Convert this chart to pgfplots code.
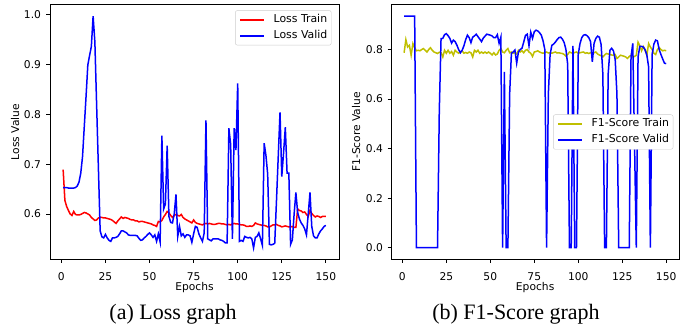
\documentclass[border=0pt]{standalone}
\usepackage{fontspec}
\setmainfont{DejaVu Sans}
\newfontfamily\capfont{Liberation Serif}
\usepackage{pgfplots}
\usepackage{pgfplotstable}
\pgfplotsset{compat=1.18}
\definecolor{mplyellow}{rgb}{0.75,0.75,0}
\definecolor{mplred}{rgb}{1,0,0}
\definecolor{mplblue}{rgb}{0,0,1}

\pgfplotstableread{
e lt lv
1 0.689 0.653
2 0.627 0.653
3 0.615 0.653
4 0.607 0.652
5 0.600 0.652
6 0.597 0.652
7 0.605 0.652
8 0.599 0.653
9 0.598 0.656
10 0.598 0.664
11 0.599 0.682
12 0.601 0.715
13 0.603 0.776
14 0.602 0.836
15 0.600 0.899
16 0.598 0.918
17 0.593 0.936
18 0.590 0.997
19 0.587 0.945
20 0.588 0.818
21 0.592 0.692
22 0.593 0.566
23 0.593 0.554
24 0.592 0.552
25 0.592 0.559
26 0.591 0.552
27 0.590 0.547
28 0.589 0.545
29 0.587 0.552
30 0.584 0.552
31 0.581 0.553
32 0.586 0.555
33 0.590 0.560
34 0.594 0.566
35 0.591 0.566
36 0.593 0.564
37 0.592 0.562
38 0.591 0.558
39 0.589 0.557
40 0.588 0.557
41 0.588 0.557
42 0.586 0.557
43 0.586 0.556
44 0.584 0.551
45 0.585 0.547
46 0.585 0.548
47 0.584 0.552
48 0.583 0.555
49 0.582 0.559
50 0.581 0.562
51 0.580 0.558
52 0.578 0.553
53 0.577 0.558
54 0.575 0.545
55 0.585 0.560
56 0.584 0.544
57 0.587 0.757
58 0.594 0.610
59 0.599 0.620
60 0.605 0.737
61 0.602 0.595
62 0.597 0.583
63 0.593 0.582
64 0.597 0.600
65 0.599 0.639
66 0.597 0.555
67 0.596 0.575
68 0.599 0.556
69 0.593 0.560
70 0.590 0.553
71 0.588 0.558
72 0.586 0.558
73 0.584 0.556
74 0.582 0.543
75 0.588 0.560
76 0.583 0.575
77 0.581 0.573
78 0.580 0.560
79 0.579 0.552
80 0.578 0.545
81 0.580 0.562
82 0.581 0.788
83 0.580 0.550
84 0.581 0.548
85 0.580 0.546
86 0.579 0.550
87 0.579 0.550
88 0.580 0.550
89 0.581 0.550
90 0.581 0.548
91 0.580 0.547
92 0.580 0.545
93 0.579 0.542
94 0.578 0.542
95 0.579 0.772
96 0.578 0.740
97 0.580 0.550
98 0.581 0.772
99 0.580 0.728
100 0.580 0.862
101 0.579 0.545
102 0.578 0.547
103 0.578 0.545
104 0.577 0.555
105 0.575 0.553
106 0.575 0.552
107 0.576 0.553
108 0.575 0.550
109 0.577 0.532
110 0.582 0.553
111 0.580 0.555
112 0.579 0.562
113 0.578 0.550
114 0.577 0.537
115 0.577 0.742
116 0.576 0.718
117 0.574 0.680
118 0.574 0.539
119 0.576 0.538
120 0.578 0.539
121 0.578 0.541
122 0.579 0.627
123 0.577 0.716
124 0.576 0.804
125 0.574 0.675
126 0.575 0.722
127 0.576 0.774
128 0.575 0.682
129 0.574 0.682
130 0.574 0.539
131 0.575 0.548
132 0.573 0.600
133 0.573 0.643
134 0.610 0.603
135 0.607 0.590
136 0.606 0.582
137 0.603 0.577
138 0.604 0.570
139 0.599 0.558
140 0.595 0.600
141 0.607 0.643
142 0.601 0.575
143 0.597 0.556
144 0.594 0.552
145 0.596 0.552
146 0.595 0.560
147 0.593 0.566
148 0.595 0.570
149 0.595 0.575
150 0.595 0.577
}\losstab

\pgfplotstableread{
e ft fv
1 0.787 0.935
2 0.840 0.935
3 0.810 0.935
4 0.817 0.935
5 0.777 0.935
6 0.824 0.935
7 0.808 0.935
8 0.795 0.000
9 0.797 0.000
10 0.795 0.000
11 0.800 0.000
12 0.804 0.000
13 0.797 0.000
14 0.790 0.000
15 0.800 0.000
16 0.807 0.000
17 0.797 0.000
18 0.790 0.000
19 0.787 0.000
20 0.784 0.000
21 0.789 0.550
22 0.788 0.844
23 0.770 0.845
24 0.797 0.860
25 0.785 0.864
26 0.797 0.856
27 0.785 0.845
28 0.792 0.826
29 0.777 0.838
30 0.797 0.832
31 0.790 0.818
32 0.785 0.800
33 0.790 0.787
34 0.795 0.797
35 0.785 0.815
36 0.788 0.840
37 0.785 0.858
38 0.790 0.848
39 0.787 0.828
40 0.770 0.850
41 0.797 0.855
42 0.790 0.862
43 0.797 0.852
44 0.785 0.842
45 0.790 0.832
46 0.785 0.846
47 0.790 0.854
48 0.785 0.862
49 0.790 0.860
50 0.785 0.858
51 0.778 0.855
52 0.787 0.848
53 0.778 0.848
54 0.782 0.860
55 0.797 0.825
56 0.804 0.850
57 0.790 0.000
58 0.787 0.710
59 0.797 0.000
60 0.804 0.000
61 0.787 0.620
62 0.790 0.785
63 0.785 0.790
64 0.787 0.798
65 0.782 0.745
66 0.797 0.790
67 0.790 0.800
68 0.795 0.805
69 0.787 0.830
70 0.797 0.857
71 0.800 0.862
72 0.790 0.815
73 0.785 0.870
74 0.772 0.845
75 0.790 0.872
76 0.792 0.878
77 0.795 0.875
78 0.790 0.868
79 0.787 0.858
80 0.785 0.835
81 0.788 0.800
82 0.790 0.000
83 0.786 0.620
84 0.787 0.780
85 0.785 0.817
86 0.788 0.822
87 0.790 0.830
88 0.786 0.840
89 0.787 0.848
90 0.785 0.850
91 0.784 0.842
92 0.780 0.828
93 0.773 0.800
94 0.780 0.740
95 0.790 0.000
96 0.787 0.000
97 0.785 0.815
98 0.788 0.000
99 0.790 0.000
100 0.785 0.780
101 0.787 0.824
102 0.789 0.848
103 0.790 0.858
104 0.785 0.860
105 0.787 0.856
106 0.784 0.848
107 0.787 0.832
108 0.785 0.750
109 0.787 0.825
110 0.790 0.845
111 0.782 0.854
112 0.778 0.850
113 0.775 0.820
114 0.770 0.700
115 0.778 0.000
116 0.784 0.000
117 0.782 0.700
118 0.781 0.797
119 0.778 0.805
120 0.777 0.795
121 0.780 0.760
122 0.764 0.620
123 0.770 0.000
124 0.777 0.000
125 0.775 0.000
126 0.773 0.000
127 0.770 0.000
128 0.764 0.000
129 0.772 0.000
130 0.777 0.770
131 0.770 0.825
132 0.772 0.420
133 0.777 0.000
134 0.830 0.770
135 0.816 0.813
136 0.795 0.813
137 0.812 0.810
138 0.800 0.798
139 0.777 0.778
140 0.824 0.730
141 0.810 0.000
142 0.800 0.780
143 0.785 0.822
144 0.780 0.838
145 0.800 0.835
146 0.808 0.800
147 0.800 0.780
148 0.795 0.762
149 0.797 0.745
150 0.795 0.743
}\ftab

\pgfplotsset{
  mpl/.style={
    scale only axis,
    width=289pt, height=254.6pt,
    xmin=-6.45, xmax=157.45,
    xtick={0,25,50,75,100,125,150},
    tick align=outside, tick pos=left,
    major tick length=3.5pt,
    major tick style={black, line width=0.8pt},
    axis line style={black, line width=0.8pt},
    /pgf/number format/assume math mode=true,
    tick label style={font=\fontsize{10.7}{12}\selectfont},
    label style={font=\fontsize{10.7}{12}\selectfont},
    xticklabel style={yshift=-5.9pt},
    xlabel style={at={(axis description cs:0.5,-0.112)}, anchor=center},
    ylabel style={at={(axis description cs:-0.121,0.5)}, anchor=center},
    legend cell align=left,
    legend image code/.code={\draw[##1, line width=1.6pt] (0pt,0pt) -- (24pt,0pt);},
    legend style={draw=black!20, rounded corners=2pt, fill=white,
      font=\fontsize{10.9}{12}\selectfont,
      inner xsep=4pt, inner ysep=4.4pt, row sep=6.2pt,
      nodes={inner sep=0pt, text height=7.6pt, text depth=2.2pt},
      /tikz/every odd column/.append style={column sep=8.7pt}},
  }
}

\begin{document}
\begin{tikzpicture}[x=1pt,y=1pt]
\path[use as bounding box] (0,0) rectangle (691,329);

\begin{axis}[mpl, at={(50pt,69.7pt)}, anchor=south west,
  ymin=0.509, ymax=1.020,
  ytick={0.6,0.7,0.8,0.9,1.0},
  yticklabel style={/pgf/number format/.cd, fixed, fixed zerofill, precision=1, /tikz/.cd, xshift=-2pt},
  xlabel={Epochs}, ylabel={Loss Value},
  legend style={at={(rel axis cs:0.974,0.909)}, anchor=east}]
\addplot[draw=mplred, line width=1.5pt, mark=none] table[x=e, y=lt] {\losstab};
\addlegendentry{Loss Train}
\addplot[draw=mplblue, line width=1.5pt, mark=none] table[x=e, y=lv] {\losstab};
\addlegendentry{Loss Valid}
\end{axis}

\begin{axis}[mpl, at={(391pt,69.7pt)}, anchor=south west, width=288.3pt,
  ymin=-0.0467, ymax=0.981,
  ytick={0,0.2,0.4,0.6,0.8},
  yticklabel style={/pgf/number format/.cd, fixed, fixed zerofill, precision=1, /tikz/.cd, xshift=-1pt},
  xlabel={Epochs}, ylabel={F1-Score Value},
  legend style={at={(rel axis cs:0.979,0.5)}, anchor=east}]
\addplot[draw=mplyellow, line width=1.5pt, mark=none] table[x=e, y=ft] {\ftab};
\addlegendentry{F1-Score Train}
\addplot[draw=mplblue, line width=1.5pt, mark=none] table[x=e, y=fv] {\ftab};
\addlegendentry{F1-Score Valid}
\end{axis}

\node[font=\capfont\fontsize{22}{26}\selectfont, anchor=base] at (173,9) {(a) Loss graph};
\node[font=\capfont\fontsize{22}{26}\selectfont, anchor=base] at (516,9) {(b) F1-Score graph};
\end{tikzpicture}
\end{document}
